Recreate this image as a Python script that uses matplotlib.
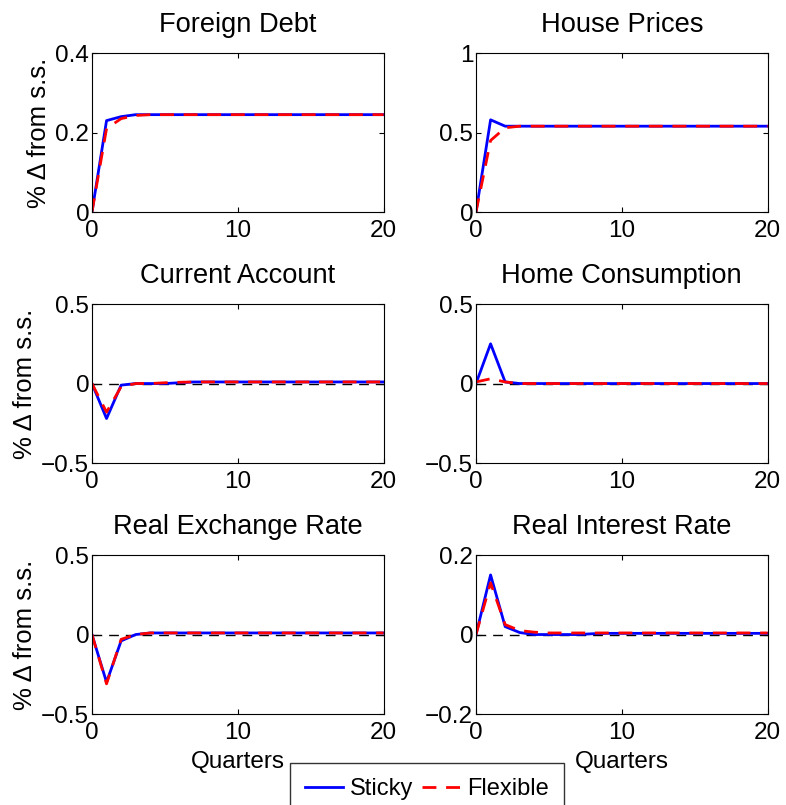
import numpy as np
import matplotlib.pyplot as plt

plt.rcParams["font.family"] = ["Liberation Sans", "DejaVu Sans"]
plt.rcParams["font.size"] = 17.5

quarters = np.arange(21)

titles = ["Foreign Debt", "House Prices", "Current Account",
          "Home Consumption", "Real Exchange Rate", "Real Interest Rate"]

# sticky-price responses
debt_sticky = [0, 0.23, 0.24, 0.245] + [0.245] * 17
house_sticky = [0, 0.58, 0.54, 0.54] + [0.54] * 17
ca_sticky = [0, -0.22, -0.01, 0, 0, 0, 0.005, 0.01] + [0.01] * 13
cons_sticky = [0, 0.25, 0.01, 0.0] + [0.0] * 17
rer_sticky = [0, -0.30, -0.04, 0.0, 0.01] + [0.01] * 16
rir_sticky = [0, 0.15, 0.02, 0.005, 0.0, 0.0, 0.0, 0.0, 0.002] + [0.003] * 12

# flexible-price responses
debt_flex = [0, 0.21, 0.235, 0.243] + [0.245] * 17
house_flex = [0, 0.45, 0.53, 0.54] + [0.54] * 17
ca_flex = [0, -0.18, -0.02, 0, 0, 0.005, 0.008, 0.01] + [0.01] * 13
cons_flex = [0.01, 0.03, 0.01, 0.0] + [0.0] * 17
rer_flex = [0, -0.31, -0.03, 0.0, 0.01] + [0.01] * 16
rir_flex = [0, 0.13, 0.025, 0.01, 0.006, 0.004, 0.004, 0.004] + [0.004] * 13

sticky = [debt_sticky, house_sticky, ca_sticky, cons_sticky, rer_sticky, rir_sticky]
flex = [debt_flex, house_flex, ca_flex, cons_flex, rer_flex, rir_flex]

ylims = [(0, 0.4), (0, 1), (-0.5, 0.5), (-0.5, 0.5), (-0.5, 0.5), (-0.2, 0.2)]
yticks = [[0, 0.2, 0.4], [0, 0.5, 1], [-0.5, 0, 0.5], [-0.5, 0, 0.5],
          [-0.5, 0, 0.5], [-0.2, 0, 0.2]]
yticklabels = [["0", "0.2", "0.4"], ["0", "0.5", "1"], ["\u22120.5", "0", "0.5"],
               ["\u22120.5", "0", "0.5"], ["\u22120.5", "0", "0.5"],
               ["\u22120.2", "0", "0.2"]]

fig = plt.figure(figsize=(7.86, 8.05), dpi=100)

lefts = [0.117, 0.6056]
bottoms = [0.7366, 0.4248, 0.113]
w = 0.371
h = 0.1975

for i in range(6):
    r, c = divmod(i, 2)
    ax = fig.add_axes([lefts[c], bottoms[r], w, h])
    if i >= 2:
        ax.plot(quarters, np.zeros(21), "k--", lw=1, dashes=(7, 5))
    l1, = ax.plot(quarters, sticky[i], color="blue", lw=2, label="Sticky")
    l2, = ax.plot(quarters, flex[i], color="red", lw=2, ls="--",
                  dashes=(5, 3.5), label="Flexible")
    ax.set_xlim(0, 20)
    ax.set_ylim(*ylims[i])
    ax.set_xticks([0, 10, 20])
    ax.set_yticks(yticks[i])
    ax.set_yticklabels(yticklabels[i])
    ax.tick_params(axis="both", direction="in", length=3.5, width=0.8,
                   top=True, right=True, labelsize=17.5)
    ax.tick_params(axis="x", pad=6)
    ax.tick_params(axis="y", pad=2)
    ax.set_title(titles[i], fontsize=19.6, pad=15)
    if c == 0:
        ax.set_ylabel("% \u0394 from s.s.", fontsize=18.5, labelpad=3)
    if r == 2:
        ax.set_xlabel("Quarters", fontsize=17.5, labelpad=5)

fig.legend([l1, l2], ["Sticky", "Flexible"], loc="upper center",
           bbox_to_anchor=(427 / 786, 1 - 763 / 805), ncol=2,
           fontsize=17, frameon=True, fancybox=False, edgecolor="black",
           handlelength=1.6, columnspacing=0.35, handletextpad=0.3,
           borderpad=0.65, borderaxespad=0)

fig.savefig("out.png", dpi=100)
